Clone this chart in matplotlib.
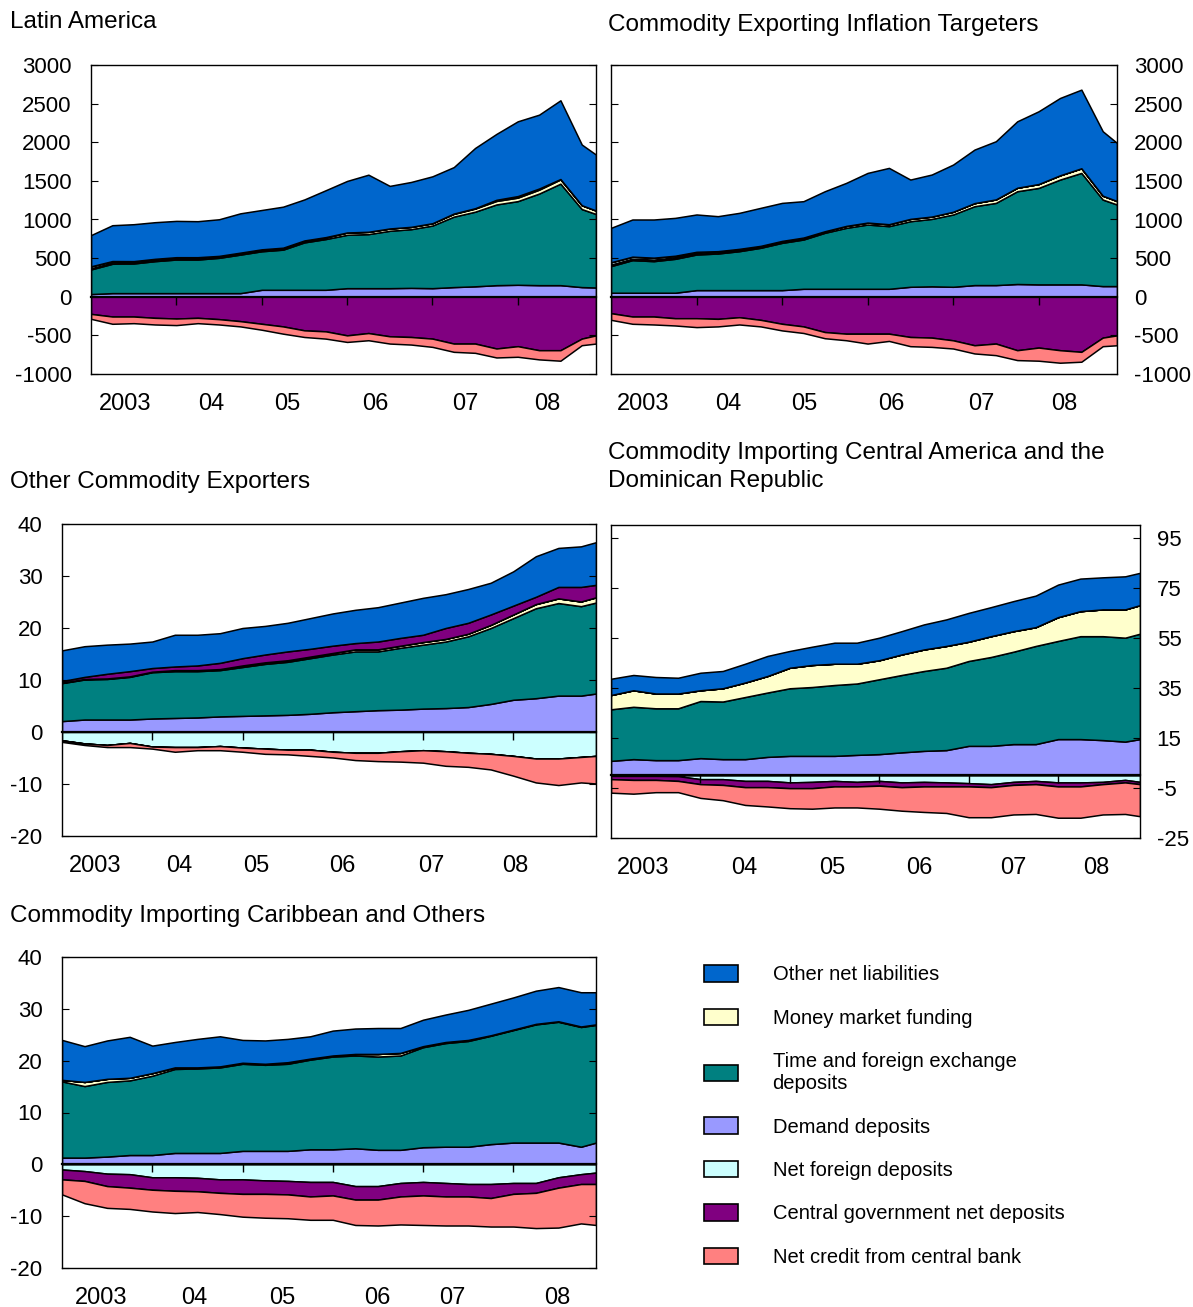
import numpy as np
import matplotlib
matplotlib.use("Agg")
import matplotlib.pyplot as plt
from matplotlib.patches import Patch

plt.rcParams['font.family'] = ['Liberation Sans', 'DejaVu Sans']
plt.rcParams['axes.unicode_minus'] = False

# quarterly readings, month index from Jan 2003
months = [0, 3, 6, 9, 12, 15, 18, 21, 24, 27, 30, 33, 36, 39, 42, 45, 48, 51, 54, 57, 60, 63, 66, 69, 71]
x = 2003 + np.array(months) / 12.0

year_labels = ['2003', '04', '05', '06', '07', '08']

# Latin America
la_other = [404, 464, 478, 474, 470, 466, 474, 509, 509, 531, 531, 607, 667, 739, 551, 581, 607, 601, 780, 853, 968, 956, 1019, 785, 724]
la_mm = [15, 15, 15, 15, 15, 15, 15, 15, 20, 20, 20, 20, 30, 30, 30, 30, 30, 35, 40, 45, 45, 50, 55, 50, 45]
la_time = [319, 380, 384, 414, 435, 435, 457, 499, 499, 520, 614, 657, 691, 700, 743, 760, 811, 912, 966, 1045, 1083, 1186, 1314, 1010, 951]
la_demand = [35, 47, 47, 47, 47, 47, 47, 47, 90, 90, 90, 90, 111, 111, 111, 115, 111, 125, 135, 150, 155, 150, 150, 125, 120]
la_nf = [25, 20, 15, 15, 15, 15, 10, 10, 5, 5, 5, 5, 0, 0, 0, 0, 0, 5, 5, 15, 20, 15, 5, 0, 0]
la_cg = [-222, -256, -256, -273, -282, -273, -290, -316, -350, -384, -435, -448, -500, -470, -512, -521, -542, -606, -606, -670, -640, -692, -692, -542, -500]
la_cnb = [-64, -94, -86, -86, -85, -69, -69, -68, -77, -94, -86, -94, -85, -93, -94, -98, -107, -107, -120, -116, -137, -119, -136, -85, -106]

# Commodity exporting inflation targeters
cit_other = [445, 481, 494, 490, 483, 453, 466, 492, 492, 471, 518, 557, 643, 729, 509, 544, 611, 693, 753, 860, 942, 1001, 1018, 834, 752]
cit_mm = [20, 20, 20, 20, 20, 20, 20, 20, 20, 20, 20, 25, 25, 25, 30, 30, 35, 40, 45, 45, 50, 55, 60, 50, 45]
cit_time = [345, 422, 409, 439, 461, 474, 504, 548, 612, 638, 725, 789, 832, 811, 849, 873, 936, 1021, 1064, 1201, 1249, 1357, 1443, 1120, 1056]
cit_demand = [52, 52, 52, 52, 86, 86, 86, 86, 86, 103, 103, 103, 103, 103, 129, 135, 129, 151, 151, 165, 160, 160, 160, 138, 138]
cit_nf = [30, 25, 25, 20, 15, 10, 10, 5, 5, 5, 0, 0, 0, 0, 0, 0, 0, 0, 0, 0, 0, 0, 0, 0, 0]
cit_cg = [-213, -256, -256, -278, -278, -286, -265, -299, -350, -384, -457, -478, -478, -478, -521, -529, -564, -628, -606, -692, -658, -692, -713, -529, -500]
cit_cnb = [-86, -94, -103, -94, -115, -98, -94, -85, -86, -85, -80, -85, -128, -94, -119, -120, -106, -106, -150, -128, -170, -162, -128, -111, -128]

# Other commodity exporters
oce_other = [5.9, 5.9, 5.6, 5.3, 5.1, 6.1, 5.9, 5.7, 5.8, 5.5, 5.5, 5.9, 6.2, 6.4, 6.6, 6.8, 7.1, 6.5, 6.5, 6.1, 6.6, 7.8, 7.5, 7.8, 8.2]
oce_mm = [0.1, 0.1, 0.1, 0.1, 0.1, 0.2, 0.2, 0.2, 0.3, 0.3, 0.3, 0.3, 0.3, 0.4, 0.4, 0.4, 0.5, 0.5, 0.5, 0.6, 0.7, 0.8, 0.9, 0.9, 1.0]
oce_time = [7.3, 7.7, 7.8, 8.2, 8.9, 9.0, 8.9, 8.9, 9.4, 9.9, 10.2, 10.7, 11.1, 11.5, 11.3, 11.9, 12.3, 12.8, 13.6, 14.6, 15.7, 17.3, 17.8, 17.2, 17.5]
oce_demand = [2.1, 2.4, 2.4, 2.4, 2.6, 2.7, 2.8, 3.0, 3.1, 3.2, 3.3, 3.5, 3.8, 4.0, 4.2, 4.3, 4.5, 4.6, 4.8, 5.4, 6.2, 6.5, 7.0, 7.0, 7.4]
oce_nf = [-1.6, -2.2, -2.5, -2.1, -2.8, -2.9, -2.9, -2.7, -3.0, -3.2, -3.4, -3.4, -3.8, -4.0, -4.0, -3.7, -3.5, -3.7, -4.0, -4.2, -4.6, -5.1, -5.1, -4.8, -4.6]
oce_cg = [0.3, 0.4, 0.9, 1.0, 0.7, 0.7, 0.9, 1.2, 1.4, 1.5, 1.7, 1.5, 1.4, 1.2, 1.5, 1.5, 1.4, 2.1, 2.1, 2.0, 1.7, 1.4, 2.2, 2.8, 2.4]
oce_cnb = [-0.3, -0.3, -0.4, -0.8, -0.4, -0.9, -0.6, -0.8, -0.8, -1.0, -0.9, -1.2, -1.1, -1.4, -1.6, -2.0, -2.4, -2.8, -2.7, -3.0, -3.8, -4.6, -5.1, -4.9, -5.3]

# Central America and Dominican Republic
cadr_other = [6.5, 6.1, 6.6, 6.3, 7.0, 6.9, 7.5, 8.0, 6.7, 7.3, 8.4, 8.4, 9.0, 9.3, 10.0, 10.6, 11.5, 11.6, 12.0, 12.6, 13.0, 13.0, 12.8, 13.2, 12.9]
cadr_mm = [5.7, 6.6, 5.9, 5.9, 4.3, 5.3, 5.8, 6.6, 8.2, 8.8, 8.5, 7.9, 7.6, 8.2, 8.6, 8.7, 7.7, 8.3, 8.2, 7.5, 9.5, 10.0, 10.7, 11.3, 11.4]
cadr_time = [20.6, 20.9, 20.7, 20.7, 22.8, 23.0, 24.8, 25.7, 27.0, 27.5, 28.3, 28.5, 29.9, 30.9, 31.9, 32.9, 33.9, 35.5, 36.9, 39.2, 39.2, 41.1, 41.5, 41.5, 42.1]
cadr_demand = [5.8, 6.5, 6.1, 6.1, 6.9, 6.5, 6.5, 7.4, 7.8, 7.8, 7.8, 8.2, 8.5, 9.2, 9.8, 10.1, 11.8, 11.8, 12.5, 12.5, 14.5, 14.5, 14.1, 13.5, 14.5]
cadr_nf = [-0.2, -0.2, -0.2, -0.3, -1.5, -1.5, -2.2, -2.2, -2.8, -2.6, -2.2, -2.6, -2.2, -2.8, -2.6, -2.8, -3.1, -3.5, -2.6, -2.2, -2.8, -2.8, -2.6, -1.8, -2.6]
cadr_cg = [-1.3, -1.6, -1.6, -1.9, -2.0, -2.3, -2.5, -2.5, -2.3, -2.5, -2.2, -1.8, -1.9, -1.9, -1.8, -1.6, -1.3, -1.2, -1.2, -1.3, -1.6, -1.6, -0.9, -1.0, -0.9]
cadr_cnb = [-5.4, -5.5, -4.9, -4.5, -5.5, -6.1, -7.1, -7.7, -8.0, -8.2, -8.4, -8.4, -9.2, -9.4, -10.2, -10.6, -12.3, -12.0, -11.8, -11.9, -12.5, -12.5, -12.1, -12.6, -12.8]

# Caribbean and others
cco_other = [7.7, 6.9, 7.4, 7.9, 5.3, 4.9, 5.5, 5.8, 4.4, 4.5, 4.5, 4.3, 4.8, 4.9, 5.0, 4.8, 5.1, 5.3, 5.8, 6.1, 6.2, 6.4, 6.6, 6.6, 6.2]
cco_mm = [0.3, 0.8, 0.6, 0.5, 0.5, 0.3, 0.2, 0.2, 0.2, 0.2, 0.3, 0.2, 0.2, 0.3, 0.5, 0.5, 0.2, 0.2, 0.2, 0.1, 0.1, 0.1, 0.1, 0.1, 0.1]
cco_time = [14.7, 13.8, 14.4, 14.4, 15.3, 16.2, 16.3, 16.5, 16.8, 16.6, 16.8, 17.3, 17.9, 17.9, 18.0, 18.2, 19.3, 20.0, 20.4, 20.9, 21.7, 22.8, 23.3, 23.1, 22.7]
cco_demand = [1.3, 1.3, 1.5, 1.8, 1.8, 2.2, 2.2, 2.2, 2.6, 2.6, 2.6, 2.9, 2.9, 3.1, 2.8, 2.8, 3.3, 3.4, 3.4, 3.9, 4.2, 4.2, 4.2, 3.4, 4.2]
cco_nf = [-1.0, -1.3, -1.8, -1.9, -2.5, -2.5, -2.6, -2.9, -2.9, -3.1, -3.2, -3.4, -3.4, -4.2, -4.2, -3.6, -3.4, -3.6, -3.8, -3.8, -3.6, -3.6, -2.5, -1.9, -1.6]
cco_cg = [-1.9, -1.9, -2.4, -2.6, -2.4, -2.6, -2.6, -2.6, -2.8, -2.6, -2.6, -2.8, -2.6, -2.6, -2.6, -2.6, -2.6, -2.6, -2.4, -2.7, -2.1, -1.9, -2.0, -1.9, -2.2]
cco_cnb = [-2.9, -4.3, -4.2, -4.1, -4.2, -4.3, -4.0, -4.1, -4.4, -4.6, -4.6, -4.5, -4.7, -4.9, -5.0, -5.4, -5.7, -5.6, -5.6, -5.5, -6.3, -6.8, -7.7, -7.6, -7.9]

colors = {'other': '#0066CC', 'mm': '#FFFFCC', 'time': '#008080', 'demand': '#9999FF',
          'nf': '#CCFFFF', 'cg': '#800080', 'cnb': '#FF8080'}
legend_labels = {'other': 'Other net liabilities', 'mm': 'Money market funding',
                 'time': 'Time and foreign exchange\ndeposits', 'demand': 'Demand deposits',
                 'nf': 'Net foreign deposits', 'cg': 'Central government net deposits',
                 'cnb': 'Net credit from central bank'}

W, H = 1193, 1307
fig = plt.figure(figsize=(W / 100, H / 100), dpi=100)


def rect(l, t, r, b):
    return [l / W, 1 - b / H, (r - l) / W, (b - t) / H]


panels = [
    dict(title='Latin America', tpos=(10, 22), rect=rect(91, 65, 596, 374), side='left',
         ylim=(-1000, 3000), yticks=range(-1000, 3001, 500),
         lab=[0.40, 1.41, 2.30, 3.33, 4.38, 5.35],
         s=dict(other=la_other, mm=la_mm, time=la_time, demand=la_demand, nf=la_nf, cg=la_cg, cnb=la_cnb)),
    dict(title='Commodity Exporting Inflation Targeters', tpos=(608, 25), rect=rect(611, 65, 1117, 374), side='right',
         ylim=(-1000, 3000), yticks=range(-1000, 3001, 500),
         lab=[0.37, 1.37, 2.26, 3.28, 4.33, 5.30],
         s=dict(other=cit_other, mm=cit_mm, time=cit_time, demand=cit_demand, nf=cit_nf, cg=cit_cg, cnb=cit_cnb)),
    dict(title='Other Commodity Exporters', tpos=(10, 482), rect=rect(62, 524, 596, 836), side='left',
         ylim=(-20, 40), yticks=range(-20, 41, 10),
         lab=[0.37, 1.30, 2.15, 3.11, 4.09, 5.02],
         s=dict(other=oce_other, mm=oce_mm, time=oce_time, demand=oce_demand, nf=oce_nf, cg=oce_cg, cnb=oce_cnb)),
    dict(title='Commodity Importing Central America and the\nDominican Republic', tpos=(608, 467),
         rect=rect(611, 525, 1140, 838), side='right',
         ylim=(-25, 100), yticks=range(-25, 96, 20),
         lab=[0.36, 1.49, 2.48, 3.45, 4.50, 5.43],
         s=dict(other=cadr_other, mm=cadr_mm, time=cadr_time, demand=cadr_demand, nf=cadr_nf, cg=cadr_cg, cnb=cadr_cnb)),
    dict(title='Commodity Importing Caribbean and Others', tpos=(10, 916), rect=rect(62, 957, 596, 1268), side='left',
         ylim=(-20, 40), yticks=range(-20, 41, 10),
         lab=[0.43, 1.46, 2.44, 3.49, 4.33, 5.49],
         s=dict(other=cco_other, mm=cco_mm, time=cco_time, demand=cco_demand, nf=cco_nf, cg=cco_cg, cnb=cco_cnb)),
]

pos_order = ['demand', 'time', 'mm', 'nf', 'cg', 'other']
neg_order = ['nf', 'cg', 'cnb']

for p in panels:
    ax = fig.add_axes(p['rect'])
    s = {k: np.array(v, dtype=float) for k, v in p['s'].items()}
    ax.stackplot(x, [np.clip(s[k], 0, None) for k in pos_order],
                 colors=[colors[k] for k in pos_order], edgecolor='black', linewidth=1.1)
    ax.stackplot(x, [np.clip(s[k], None, 0) for k in neg_order],
                 colors=[colors[k] for k in neg_order], edgecolor='black', linewidth=1.1)

    ax.set_xlim(2003, 2003 + 71 / 12)
    ax.set_ylim(*p['ylim'])
    ax.set_yticks(list(p['yticks']))
    left = p['side'] == 'left'
    ax.tick_params(axis='y', direction='in', left=True, right=True, length=5,
                   labelleft=left, labelright=not left, labelsize=16, pad=14 if left else 12)
    ax.set_xticks([2003 + v for v in p['lab']])
    ax.set_xticklabels(year_labels)
    ax.tick_params(axis='x', length=0, labelsize=17, pad=14)
    for sp in ax.spines.values():
        sp.set_linewidth(1.0)

    # zero line with year ticks
    frac = (0 - p['ylim'][0]) / (p['ylim'][1] - p['ylim'][0])
    sec = ax.secondary_xaxis(frac)
    sec.set_xticks([2004, 2005, 2006, 2007, 2008])
    sec.tick_params(direction='out', length=6, width=1.0, labelbottom=False, labeltop=False)
    sec.spines['bottom'].set_linewidth(1.6)
    sec.set_zorder(5)

    tx, ty = p['tpos']
    fig.text(tx / W, 1 - ty / H, p['title'], fontsize=17.5, ha='left', va='center', linespacing=1.35)

handles = [Patch(facecolor=colors[k], edgecolor='black', linewidth=1.2, label=legend_labels[k])
           for k in ['other', 'mm', 'time', 'demand', 'nf', 'cg', 'cnb']]
fig.legend(handles=handles, loc='upper left', bbox_to_anchor=(686 / W, 1 - 947 / H), frameon=False,
           fontsize=14.5, handlelength=1.7, handleheight=0.9, handletextpad=1.7, labelspacing=1.2)

fig.savefig('out.png', dpi=100)
